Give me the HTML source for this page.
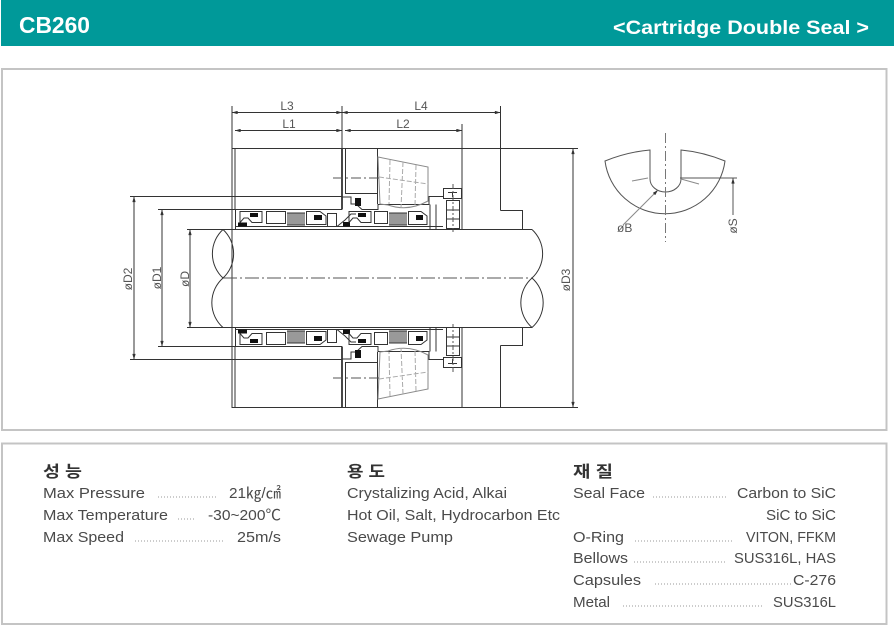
<!DOCTYPE html>
<html><head><meta charset="utf-8">
<style>
html,body{margin:0;padding:0;background:#fff;}
svg{display:block}
.l{stroke:#333;stroke-width:1;fill:none}
.g{stroke:#8a8a8a;stroke-width:1;fill:none}
.gd{stroke:#aaa;stroke-width:1;fill:none;stroke-dasharray:5 2}
.c{stroke:#555;stroke-width:1;fill:none;stroke-dasharray:14 3 2 3}
.b{fill:#111;stroke:none}
.dt{stroke:#999;stroke-width:1;stroke-dasharray:1 2}
.t{font-family:"Liberation Sans","Noto Sans CJK KR",sans-serif;font-size:15px;fill:#4a4a4a}
.h{font-family:"Liberation Sans","Noto Sans CJK KR",sans-serif;font-size:16px;font-weight:bold;fill:#333}
.dl{font-family:"Liberation Sans",sans-serif;font-size:12px;fill:#555}
</style></head><body>
<svg width="895" height="627" viewBox="0 0 895 627" xmlns="http://www.w3.org/2000/svg">
<defs>
<marker id="ar" viewBox="0 0 10 6" refX="10" refY="3" markerWidth="6" markerHeight="3.4" orient="auto-start-reverse" markerUnits="userSpaceOnUse"><path d="M0 0L10 3L0 6z" fill="#333"/></marker>
<g id="U">
 <path class="l" d="M235 148.5 V209.5 H342"/>
 <line class="l" x1="342" y1="148" x2="342" y2="209.5" style="stroke-width:1.8"/>
 <path class="l" d="M345.5 148 V193.5 H377.5"/>
 <line class="l" x1="377.5" y1="148" x2="377.5" y2="204"/>
 <path class="l" d="M342 197 H351 V204 H356 L362 209.5 H378 V204.5 H429 V196.5 H443"/>
 <path class="l" d="M430 204.5 V229 M436 204.5 V229"/>
 <line class="l" x1="235" y1="226.5" x2="443" y2="226.5"/>
 <path class="l" d="M235.5 209.5 V229"/>
 <path class="l" d="M240 222.5 V211.5 H262 V222.5 H252 L248 218 H244 L240 222.5"/>
 <rect class="b" x="250" y="213" width="8" height="4"/>
 <rect class="b" x="238" y="222.5" width="9" height="4"/>
 <rect class="l" x="266.5" y="211.5" width="19" height="12"/>
 <path class="l" d="M288 213V225M290 213V225M292 213V225M294 213V225M296 213V225M298 213V225M300 213V225M302 213V225M304 213V225M287 213H305M287 225H305"/>
 <path class="l" d="M306.5 211.5 H320 L326 216 V224.5 H306.5 Z"/>
 <rect class="b" x="314" y="215" width="8" height="5"/>
 <rect class="l" x="327.5" y="213.5" width="9" height="13"/>
 <path class="l" d="M337 226.5 L345 220 L351 214 H356"/>
 <rect class="b" x="343" y="222" width="7" height="4.5"/>
 <path class="l" d="M349 222.5 V211.5 H371 V222.5 H361 L357 218 H353 L349 222.5"/>
 <rect class="b" x="358" y="213" width="8" height="4"/>
 <rect class="b" x="355" y="198" width="6" height="8"/>
 <rect class="l" x="374.5" y="211.5" width="13" height="12"/>
 <path class="l" d="M390 213V225M392 213V225M394 213V225M396 213V225M398 213V225M400 213V225M402 213V225M404 213V225M406 213V225M389 213H407M389 225H407"/>
 <path class="l" d="M408.5 211.5 H421 L427 216 V224.5 H408.5 Z"/>
 <rect class="b" x="416" y="215" width="7" height="5"/>
 <rect class="l" x="443.5" y="188.5" width="18" height="10"/>
 <path class="l" d="M448 192.5 H457 M452.5 192.5 V197"/>
 <rect class="l" x="446.5" y="200.5" width="13" height="28"/>
 <path class="l" d="M446.5 210 H459.5 M446.5 219 H459.5"/>
 <line class="c" x1="453" y1="184" x2="453" y2="232" style="stroke-dasharray:5 2 2 2"/>
 <line class="l" x1="500.5" y1="148" x2="500.5" y2="210.5"/>
 <path class="l" d="M500.5 210.5 H522.5 V229"/>
 <path class="g" d="M378 157 L428 167 L428 201 Q408 212 388 205 L380 204 Z"/>
 <path class="gd" d="M390 160 L389 204 M403 162 L401 208 M416 165 L415 206 M379 177 L428 184"/>
 <line class="c" x1="333" y1="178" x2="380" y2="178" style="stroke-dasharray:10 3 2 3"/>
</g>
</defs>

<rect x="1" y="0" width="893" height="46" fill="#009999"/>
<text x="19" y="33" font-family="Liberation Sans,sans-serif" font-size="23" font-weight="bold" fill="#fff" textLength="71" lengthAdjust="spacingAndGlyphs">CB260</text>
<text x="613" y="34" font-family="Liberation Sans,sans-serif" font-size="19" font-weight="bold" fill="#fff" textLength="256" lengthAdjust="spacingAndGlyphs">&lt;Cartridge  Double  Seal  &gt;</text>

<rect x="2" y="69" width="884.5" height="361" fill="none" stroke="#c4c4c4" stroke-width="2"/>
<rect x="2" y="443.5" width="884.5" height="180.5" fill="none" stroke="#c4c4c4" stroke-width="2"/>

<use href="#U"/>
<use href="#U" transform="matrix(1 0 0 -1 0 556)"/>

<line class="l" x1="232" y1="106" x2="232" y2="408"/>
<line class="l" x1="342" y1="106" x2="342" y2="149"/>
<line class="l" x1="462" y1="124" x2="462" y2="229"/>
<line class="l" x1="462" y1="327" x2="462" y2="408"/>
<line class="l" x1="500.5" y1="106" x2="500.5" y2="149"/>
<line class="l" x1="232" y1="148.5" x2="578" y2="148.5"/>
<line class="l" x1="232" y1="407.5" x2="578" y2="407.5"/>

<line class="l" x1="232" y1="112.5" x2="342" y2="112.5" marker-start="url(#ar)" marker-end="url(#ar)"/>
<line class="l" x1="342" y1="112.5" x2="500.5" y2="112.5" marker-start="url(#ar)" marker-end="url(#ar)"/>
<line class="l" x1="235" y1="130.5" x2="342" y2="130.5" marker-start="url(#ar)" marker-end="url(#ar)"/>
<line class="l" x1="345" y1="130.5" x2="462" y2="130.5" marker-start="url(#ar)" marker-end="url(#ar)"/>
<text class="dl" x="287" y="110" text-anchor="middle">L3</text>
<text class="dl" x="421" y="110" text-anchor="middle">L4</text>
<text class="dl" x="289" y="128" text-anchor="middle">L1</text>
<text class="dl" x="403" y="128" text-anchor="middle">L2</text>

<line class="l" x1="187" y1="229.5" x2="532" y2="229.5"/>
<line class="l" x1="187" y1="327.5" x2="532" y2="327.5"/>
<line class="c" x1="223" y1="278" x2="532" y2="278"/>
<path class="l" d="M223 229.5 A33 33 0 0 0 223 278 A33 33 0 0 0 223 229.5"/>
<path class="l" d="M223 278 A33 33 0 0 0 223 327.5"/>
<path class="l" d="M532 229.5 A33 33 0 0 1 532 278"/>
<path class="l" d="M532 278 A33 33 0 0 1 532 327.5 A33 33 0 0 1 532 278"/>

<line class="l" x1="130" y1="196.5" x2="342" y2="196.5"/>
<line class="l" x1="130" y1="359.5" x2="342" y2="359.5"/>
<line class="l" x1="134" y1="196.5" x2="134" y2="359.5" marker-start="url(#ar)" marker-end="url(#ar)"/>
<line class="l" x1="158" y1="209.5" x2="235" y2="209.5"/>
<line class="l" x1="158" y1="346.5" x2="235" y2="346.5"/>
<line class="l" x1="162" y1="209.5" x2="162" y2="346.5" marker-start="url(#ar)" marker-end="url(#ar)"/>
<line class="l" x1="190" y1="229.5" x2="190" y2="327.5" marker-start="url(#ar)" marker-end="url(#ar)"/>
<line class="l" x1="573" y1="148.5" x2="573" y2="407.5" marker-start="url(#ar)" marker-end="url(#ar)"/>
<text class="dl" transform="translate(132,279) rotate(-90)" text-anchor="middle">øD2</text>
<text class="dl" transform="translate(161,278) rotate(-90)" text-anchor="middle">øD1</text>
<text class="dl" transform="translate(189,279) rotate(-90)" text-anchor="middle">øD</text>
<text class="dl" transform="translate(570,280) rotate(-90)" text-anchor="middle">øD3</text>

<path class="l" d="M605 161 Q627 152 650 150 V179 A15.5 13 0 0 0 681 179 V150 Q703 152 725 161 A60.5 60.5 0 0 1 605 161 Z" style="stroke:#555"/>
<line class="c" x1="665.5" y1="133" x2="665.5" y2="242" style="stroke-dasharray:10 3 2 3;stroke:#777"/>
<line class="g" x1="632" y1="181" x2="648" y2="178"/>
<line class="g" x1="681" y1="179" x2="699" y2="184"/>
<line class="l" x1="680" y1="178" x2="737" y2="178" style="stroke:#555"/>
<line class="l" x1="733" y1="215" x2="733" y2="178" marker-end="url(#ar)" style="stroke:#555"/>
<text class="dl" transform="translate(737,226) rotate(-90)" text-anchor="middle">øS</text>
<line class="g" x1="623" y1="225" x2="658" y2="190" marker-end="url(#ar)"/>
<text class="dl" x="617" y="232">øB</text>

<text class="h" x="43" y="477" textLength="39" lengthAdjust="spacingAndGlyphs">성 능</text>
<text class="t" x="43" y="498" textLength="102" lengthAdjust="spacingAndGlyphs">Max Pressure</text>
<line class="dt" x1="158" y1="497" x2="218" y2="497"/>
<text class="t" x="281" y="498" text-anchor="end" textLength="52" lengthAdjust="spacingAndGlyphs">21㎏/㎠</text>
<text class="t" x="43" y="520" textLength="125" lengthAdjust="spacingAndGlyphs">Max Temperature</text>
<line class="dt" x1="178" y1="519" x2="194" y2="519"/>
<text class="t" x="281" y="520" text-anchor="end" textLength="73" lengthAdjust="spacingAndGlyphs">-30~200℃</text>
<text class="t" x="43" y="542" textLength="81" lengthAdjust="spacingAndGlyphs">Max Speed</text>
<line class="dt" x1="135" y1="541" x2="224" y2="541"/>
<text class="t" x="281" y="542" text-anchor="end" textLength="44" lengthAdjust="spacingAndGlyphs">25m/s</text>

<text class="h" x="347" y="477" textLength="38" lengthAdjust="spacingAndGlyphs">용 도</text>
<text class="t" x="347" y="498" textLength="160" lengthAdjust="spacingAndGlyphs">Crystalizing Acid, Alkai</text>
<text class="t" x="347" y="520" textLength="213" lengthAdjust="spacingAndGlyphs">Hot Oil, Salt, Hydrocarbon Etc</text>
<text class="t" x="347" y="542" textLength="106" lengthAdjust="spacingAndGlyphs">Sewage Pump</text>

<text class="h" x="573" y="477" textLength="40" lengthAdjust="spacingAndGlyphs">재 질</text>
<text class="t" x="573" y="498" textLength="72" lengthAdjust="spacingAndGlyphs">Seal Face</text>
<line class="dt" x1="653" y1="497" x2="728" y2="497"/>
<text class="t" x="836" y="498" text-anchor="end" textLength="99" lengthAdjust="spacingAndGlyphs">Carbon to SiC</text>
<text class="t" x="836" y="520" text-anchor="end" textLength="70" lengthAdjust="spacingAndGlyphs">SiC to SiC</text>
<text class="t" x="573" y="542" textLength="51" lengthAdjust="spacingAndGlyphs">O-Ring</text>
<line class="dt" x1="635" y1="541" x2="734" y2="541"/>
<text class="t" x="836" y="542" text-anchor="end" textLength="90" lengthAdjust="spacingAndGlyphs">VITON, FFKM</text>
<text class="t" x="573" y="563" textLength="55" lengthAdjust="spacingAndGlyphs">Bellows</text>
<line class="dt" x1="634" y1="562" x2="726" y2="562"/>
<text class="t" x="836" y="563" text-anchor="end" textLength="102" lengthAdjust="spacingAndGlyphs">SUS316L, HAS</text>
<text class="t" x="573" y="585" textLength="68" lengthAdjust="spacingAndGlyphs">Capsules</text>
<line class="dt" x1="655" y1="584" x2="793" y2="584"/>
<text class="t" x="836" y="585" text-anchor="end" textLength="43" lengthAdjust="spacingAndGlyphs">C-276</text>
<text class="t" x="573" y="607" textLength="37" lengthAdjust="spacingAndGlyphs">Metal</text>
<line class="dt" x1="623" y1="606" x2="764" y2="606"/>
<text class="t" x="836" y="607" text-anchor="end" textLength="63" lengthAdjust="spacingAndGlyphs">SUS316L</text>
</svg>
</body></html>
